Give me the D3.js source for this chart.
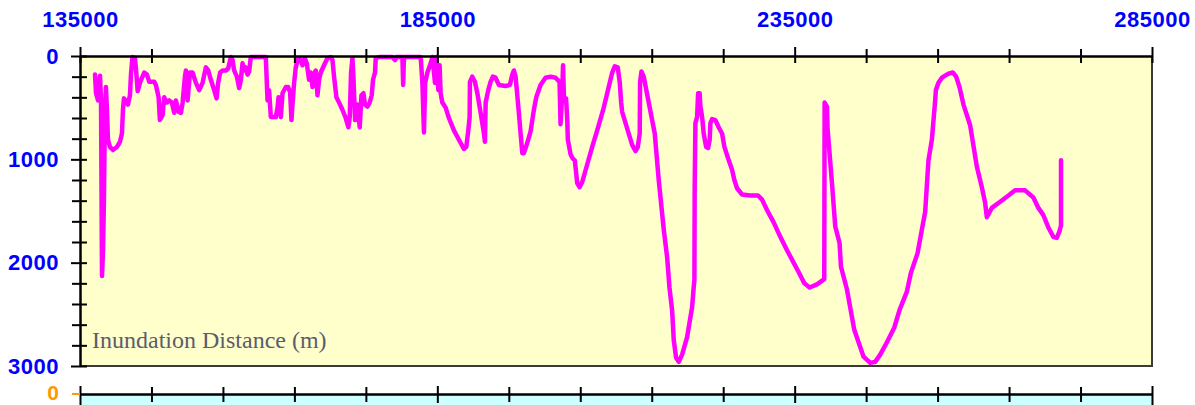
<!DOCTYPE html>
<html>
<head>
<meta charset="utf-8">
<script src="https://cdn.jsdelivr.net/npm/d3@7"></script>
<style>
  html, body { margin: 0; padding: 0; background: #ffffff; }
  svg { display: block; }
</style>
</head>
<body>
<svg id="chart" width="1195" height="405"></svg>
<script>
// Along-shore distance (m) for each sample of the inundation profile
const distance = [
  137100, 137240, 137520, 137800, 137940, 138080, 138220, 138350, 138490, 138630,
  138770, 138910, 139190, 139610, 140170, 140590, 140870, 141010, 141150, 141570,
  141710, 141990, 142130, 142340, 142690, 142900, 143070, 143430, 143990, 144370,
  144690, 145390, 145620, 146000, 146180, 146560, 146780, 147160, 147480, 147860,
  148180, 148420, 148800, 149120, 149360, 149680, 149820, 150060, 150380, 150750,
  151220, 151680, 152150, 152610, 152940, 153310, 153770, 154110, 154330, 154610,
  154950, 155410, 155730, 156110, 156350, 156570, 156950, 157270, 157510, 157740,
  157970, 158200, 158440, 158670, 158900, 159370, 160060, 160540, 161000, 161140,
  161240, 161460, 161700, 161940, 162400, 162640, 162780, 163100, 163340, 163800,
  164120, 164400, 164590, 164730, 164960, 165190, 165520, 165890, 166130, 166450,
  166730, 167050, 167290, 167530, 167750, 167990, 168230, 168450, 168690, 169150,
  169630, 170090, 170330, 170550, 170880, 171250, 171720, 172180, 172560, 172740,
  172930, 173120, 173260, 173490, 173820, 174140, 174380, 174660, 174880, 175220,
  175540, 175820, 176000, 176280, 176380, 176840, 178710, 179080, 179270, 180110,
  180220, 180330, 181970, 182670, 182910, 183130, 183300, 183610, 184070, 184310,
  184670, 184860, 185140, 185320, 185460, 185700, 186160, 186620, 187320, 188020,
  188720, 189050, 189330, 189520, 189560, 189890, 190260, 190600, 191060, 191520,
  191660, 191760, 192130, 192450, 192770, 193150, 193610, 194550, 195150, 195490,
  195710, 195950, 196410, 196650, 196890, 197110, 197590, 198050, 198510, 198840,
  199440, 200140, 200840, 201540, 202100, 202240, 202450, 202590, 202730, 203010,
  203180, 203260, 203640, 203920, 204240, 204570, 204900, 205270, 205970, 206670,
  207370, 208210, 208770, 209470, 209830, 210250, 210530, 210720, 210860, 211560,
  212260, 212720, 213050, 213320, 213370, 213560, 213880, 214580, 215420, 215980,
  216680, 217160, 217480, 217850, 218080, 218410, 218780, 219250, 219950, 220650,
  220870, 220970, 221010, 221110, 221350, 221490, 221710, 221810, 222050, 222270,
  222610, 222890, 223110, 223210, 223450, 223910, 224370, 224840, 225170, 225680,
  226240, 226560, 226940, 227640, 228800, 229880, 230440, 231130, 232060, 232990,
  233930, 234850, 235550, 236350, 237090, 238120, 239140, 239190, 239520, 239600,
  240220, 240680, 241280, 241480, 242320, 243340, 244640, 245570, 246270, 246970,
  247910, 248930, 249670, 250700, 251260, 252190, 252800, 253260, 253720, 254200,
  254660, 254760, 255120, 255600, 256520, 257130, 257600, 258060, 258620, 259550,
  260490, 261190, 261650, 261890, 262590, 263750, 264910, 265840, 267240, 268400,
  269100, 269800, 270500, 271200, 271670, 272040, 272270, 272270
];

// Inland inundation distance (m) at each sample
const inundation = [
  180, 360, 430, 190, 430, 2130, 1880, 1390, 520, 300,
  520, 810, 880, 910, 880, 830, 750, 520, 410, 450,
  470, 380, 180, 10, 20, 180, 340, 250, 160, 180,
  250, 250, 280, 400, 620, 570, 400, 450, 430, 450,
  550, 430, 540, 550, 450, 200, 140, 430, 160, 160,
  260, 330, 260, 110, 140, 230, 330, 410, 260, 160,
  140, 140, 120, 10, 40, 140, 200, 310, 230, 70,
  140, 110, 180, 150, 10, 10, 10, 10, 10, 260,
  430, 330, 590, 590, 590, 500, 400, 590, 360, 300,
  300, 350, 620, 470, 260, 110, 20, 40, 90, 20,
  70, 230, 160, 300, 180, 140, 380, 230, 160, 90,
  20, 10, 40, 200, 400, 450, 520, 600, 690, 590,
  160, 20, 200, 620, 470, 690, 380, 360, 470, 490,
  450, 380, 230, 160, 20, 10, 10, 40, 10, 10,
  280, 10, 10, 10, 260, 740, 260, 160, 70, 10,
  260, 10, 330, 90, 360, 450, 500, 600, 720, 810,
  900, 880, 720, 590, 250, 200, 250, 360, 550, 750,
  830, 450, 330, 250, 200, 210, 280, 290, 280, 180,
  140, 200, 550, 750, 940, 940, 840, 730, 520, 400,
  280, 210, 200, 210, 250, 660, 400, 90, 430, 410,
  620, 810, 950, 990, 1010, 1230, 1270, 1220, 1050, 880,
  720, 520, 360, 160, 100, 110, 260, 450, 540, 700,
  860, 920, 880, 750, 250, 150, 200, 450, 750, 1200,
  1680, 1950, 2240, 2460, 2750, 2920, 2960, 2890, 2720, 2430,
  2240, 2170, 1270, 650, 590, 360, 360, 490, 590, 750,
  880, 890, 810, 650, 610, 620, 690, 750, 880, 990,
  1100, 1200, 1280, 1340, 1350, 1350, 1390, 1490, 1610, 1750,
  1880, 2000, 2090, 2200, 2240, 2210, 2160, 450, 490, 700,
  1230, 1650, 1810, 2040, 2260, 2650, 2910, 2970, 2960, 2890,
  2770, 2630, 2460, 2280, 2100, 1910, 1680, 1510, 1010, 810,
  430, 330, 260, 210, 170, 160, 200, 300, 470, 670,
  1070, 1270, 1420, 1560, 1470, 1410, 1350, 1300, 1300, 1370,
  1470, 1540, 1660, 1750, 1760, 1700, 1640, 1010
];

// Axis labels
const xLabelTicks = [135000, 185000, 235000, 285000];
const yLabelTicks = [0, 1000, 2000, 3000];
const lowerPanelLabel = ["0"];
const panelTitle = "Inundation Distance (m)";

const svg = d3.select("#chart");

const plotLeft = 80, plotRight = 1152, plotTop = 56, plotBottom = 366;

const x = d3.scaleLinear().domain([135000, 285000]).range([plotLeft, plotRight]);
const y = d3.scaleLinear().domain([0, 3000]).range([plotTop, plotBottom]);

const xMinor = d3.range(135000, 285001, 10000);
const yMinor = d3.range(0, 3001, 200);

const labelFont = "'Liberation Sans', Arial, sans-serif";

// Plot background with a thin border on the right and bottom
svg.append("rect")
  .attr("x", plotLeft).attr("y", plotTop)
  .attr("width", plotRight - plotLeft).attr("height", plotBottom - plotTop)
  .attr("fill", "#FFFFCC");
svg.append("path")
  .attr("d", `M${plotRight},${plotTop}V${plotBottom}H${plotLeft}`)
  .attr("fill", "none").attr("stroke", "#3a3a3a").attr("stroke-width", 2);

// Inundation profile
const pts = distance.map((d, i) => [d, inundation[i]]);
const line = d3.line().x(d => x(d[0])).y(d => y(d[1]));
svg.append("path")
  .datum(pts)
  .attr("d", line)
  .attr("fill", "none")
  .attr("stroke", "#FF00FF")
  .attr("stroke-width", 4.5)
  .attr("stroke-linejoin", "round")
  .attr("stroke-linecap", "round");

// Top axis: ticks crossing the frame line
const topAxis = svg.append("g")
  .attr("transform", `translate(0,${plotTop})`)
  .call(d3.axisTop(x).tickValues(xMinor).tickSize(0).tickFormat(""));
topAxis.select(".domain").attr("stroke", "#000").attr("stroke-width", 2.5);
topAxis.selectAll(".tick line")
  .attr("y1", d => xLabelTicks.includes(d) ? -9 : -7)
  .attr("y2", 7)
  .attr("stroke", "#000").attr("stroke-width", 2);

const topLabels = svg.append("g")
  .attr("transform", `translate(0,${plotTop})`)
  .call(d3.axisTop(x).tickValues(xLabelTicks).tickSize(0).tickPadding(29).tickFormat(d3.format("d")));
topLabels.select(".domain").remove();
topLabels.selectAll("text")
  .attr("fill", "#0000FF")
  .style("font-family", labelFont)
  .style("font-weight", "bold")
  .style("font-size", "22px")
  .style("letter-spacing", "0.5px");

// Left axis
const leftAxis = svg.append("g")
  .attr("transform", `translate(${plotLeft},0)`)
  .call(d3.axisLeft(y).tickValues(yMinor).tickSize(0).tickFormat(""));
leftAxis.select(".domain").attr("stroke", "#000").attr("stroke-width", 2.5);
leftAxis.selectAll(".tick line")
  .attr("x1", d => yLabelTicks.includes(d) ? -9 : -8)
  .attr("x2", 7)
  .attr("stroke", "#000").attr("stroke-width", 2);

const leftLabels = svg.append("g")
  .attr("transform", `translate(${plotLeft},0)`)
  .call(d3.axisLeft(y).tickValues(yLabelTicks).tickSize(0).tickPadding(21).tickFormat(d3.format("d")));
leftLabels.select(".domain").remove();
leftLabels.selectAll("text")
  .attr("fill", "#0000FF")
  .style("font-family", labelFont)
  .style("font-weight", "bold")
  .style("font-size", "22px")
  .style("letter-spacing", "0.5px");

// Panel title
svg.append("text")
  .attr("x", 92).attr("y", 348)
  .attr("fill", "#5c5c6c")
  .style("font-family", "'Liberation Serif', 'Times New Roman', serif")
  .style("font-size", "24px")
  .text(panelTitle);

// Lower panel: start of the next strip
const lowerTop = 394;
svg.append("rect")
  .attr("x", plotLeft).attr("y", lowerTop + 1)
  .attr("width", plotRight - plotLeft).attr("height", 405 - lowerTop)
  .attr("fill", "#CCFFFF");

const lowerAxis = svg.append("g")
  .attr("transform", `translate(0,${lowerTop})`)
  .call(d3.axisTop(x).tickValues(xMinor).tickSize(0).tickFormat(""));
lowerAxis.select(".domain").attr("stroke", "#000").attr("stroke-width", 2.5);
lowerAxis.selectAll(".tick line")
  .attr("y1", d => xLabelTicks.includes(d) ? -8 : -7)
  .attr("y2", d => (d === 285000 || d === 135000) ? 12 : (xLabelTicks.includes(d) ? 9 : 8))
  .attr("stroke", "#000").attr("stroke-width", 2);

svg.append("line")
  .attr("x1", plotLeft - 8).attr("x2", plotLeft)
  .attr("y1", lowerTop).attr("y2", lowerTop)
  .attr("stroke", "#FF9900").attr("stroke-width", 2);

svg.append("g")
  .selectAll("text")
  .data(lowerPanelLabel)
  .join("text")
  .attr("x", plotLeft - 21).attr("y", lowerTop - 1)
  .attr("dy", "0.35em")
  .attr("text-anchor", "end")
  .attr("fill", "#FF9900")
  .style("font-family", labelFont)
  .style("font-weight", "bold")
  .style("font-size", "21px")
  .text(d => d);
</script>
</body>
</html>
